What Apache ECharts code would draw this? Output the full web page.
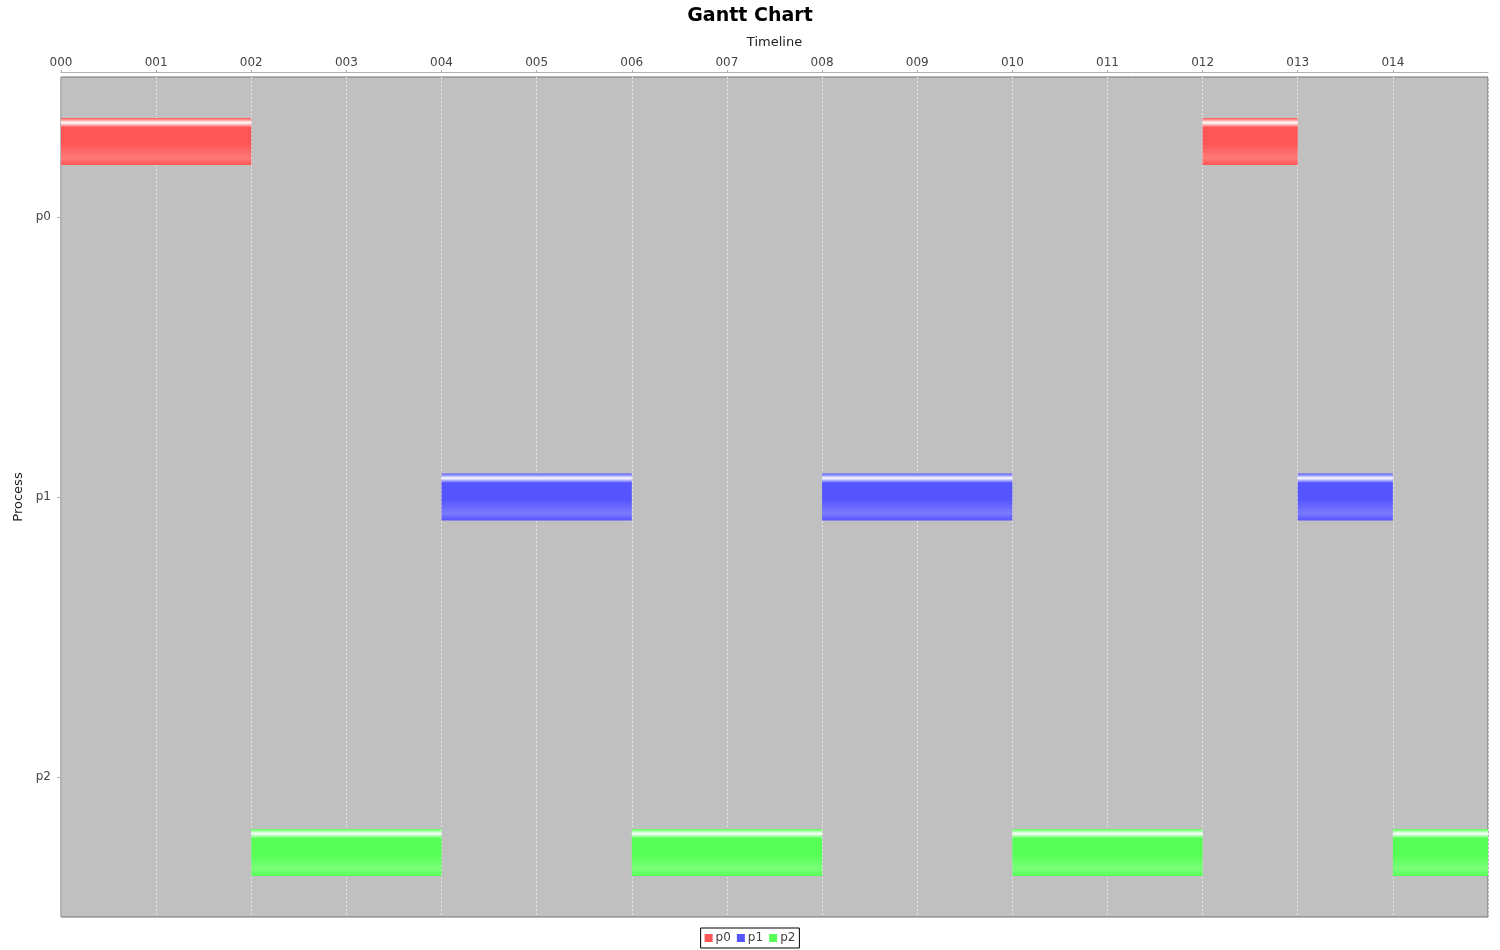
<!DOCTYPE html>
<html>
<head>
<meta charset="utf-8">
<script src="https://cdn.jsdelivr.net/npm/echarts@6/dist/echarts.min.js"></script>
<style>
html,body{margin:0;padding:0;background:#fff;}
#chart{width:1500px;height:950px;}
</style>
</head>
<body>
<div id="chart"></div>
<script>
// ---- data ----
const categories = ['p0', 'p1', 'p2'];
const seriesNames = ['p0', 'p1', 'p2'];
const tickLabels = ['000','001','002','003','004','005','006','007','008','009','010','011','012','013','014'];
const p0Tasks = [[0, 2], [12, 13]];
const p1Tasks = [[4, 6], [8, 10], [13, 14]];
const p2Tasks = [[2, 4], [6, 8], [10, 12], [14, 15]];
const seriesColors = ['#FF5555', '#5555FF', '#55FF55'];
const lightColors = ['#FF7A7A', '#7A7AFF', '#7AFF7A'];

const tasks = [p0Tasks, p1Tasks, p2Tasks];

function makeRender(si) {
  return function (params, api) {
    const cat = api.value(0);
    const s = api.coord([api.value(1), cat]);
    const e = api.coord([api.value(2), cat]);
    const band = api.size([0, 1])[1];
    const barH = band * 0.168;
    const center = s[1] + (si - 1) * band * 0.2696;
    const c = seriesColors[si], l = lightColors[si];
    const rect = echarts.graphic.clipRectByRect(
      { x: s[0], y: center - barH / 2, width: e[0] - s[0], height: barH },
      { x: params.coordSys.x, y: params.coordSys.y, width: params.coordSys.width, height: params.coordSys.height }
    );
    if (!rect) return;
    return {
      type: 'rect',
      shape: rect,
      style: {
        fill: new echarts.graphic.LinearGradient(0, 0, 0, 1, [
          { offset: 0, color: c },
          { offset: 0.1, color: '#ffffff' },
          { offset: 0.2, color: c },
          { offset: 0.55, color: c },
          { offset: 0.85, color: l },
          { offset: 1, color: c }
        ])
      }
    };
  };
}

const series = tasks.map((list, si) => ({
  type: 'custom',
  name: seriesNames[si],
  color: seriesColors[si],
  renderItem: makeRender(si),
  encode: { x: [1, 2], y: 0 },
  data: list.map(t => [si, t[0], t[1]])
}));

const chart = echarts.init(document.getElementById('chart'), null, { renderer: 'canvas' });
chart.setOption({
  animation: false,
  backgroundColor: '#ffffff',
  textStyle: { fontFamily: 'DejaVu Sans' },
  title: {
    text: 'Gantt Chart',
    left: 'center',
    top: 2,
    textStyle: { fontFamily: 'DejaVu Sans', fontWeight: 'bold', fontSize: 19, color: '#000' }
  },
  legend: {
    bottom: 2,
    left: 'center',
    data: seriesNames,
    icon: 'rect',
    itemWidth: 8,
    itemHeight: 8,
    itemGap: 6,
    padding: [4, 4],
    borderColor: '#000',
    borderWidth: 1,
    textStyle: { fontSize: 12, color: '#444', padding: [0, 0, 0, -2] }
  },
  grid: {
    left: 61,
    right: 12,
    top: 77,
    bottom: 33,
    show: true,
    backgroundColor: '#C0C0C0',
    borderColor: '#707070',
    borderWidth: 1
  },
  xAxis: {
    type: 'value',
    position: 'top',
    min: 0,
    max: 15,
    interval: 1,
    offset: 5,
    name: 'Timeline',
    nameLocation: 'middle',
    nameGap: 23,
    nameTextStyle: { fontSize: 13, color: '#222' },
    axisLine: { show: true, lineStyle: { color: '#b0b0b0' } },
    axisTick: { show: true, length: 2, lineStyle: { color: '#b0b0b0' } },
    axisLabel: {
      showMaxLabel: false,
      fontSize: 12,
      color: '#444',
      margin: 3,
      formatter: v => tickLabels[v] !== undefined ? tickLabels[v] : ''
    },
    splitLine: { show: true, lineStyle: { color: '#e4e4e4', type: [2, 2], width: 1 } }
  },
  yAxis: {
    type: 'category',
    data: categories,
    inverse: true,
    offset: 4,
    name: 'Process',
    nameLocation: 'middle',
    nameGap: 32,
    nameRotate: 90,
    nameTextStyle: { fontSize: 13, color: '#222' },
    axisLine: { show: true, lineStyle: { color: '#b0b0b0' } },
    axisTick: { show: true, alignWithLabel: true, length: 4, lineStyle: { color: '#b0b0b0' } },
    axisLabel: { fontSize: 12, color: '#444', margin: 6 },
    splitLine: { show: false }
  },
  series: series
});
</script>
</body>
</html>
